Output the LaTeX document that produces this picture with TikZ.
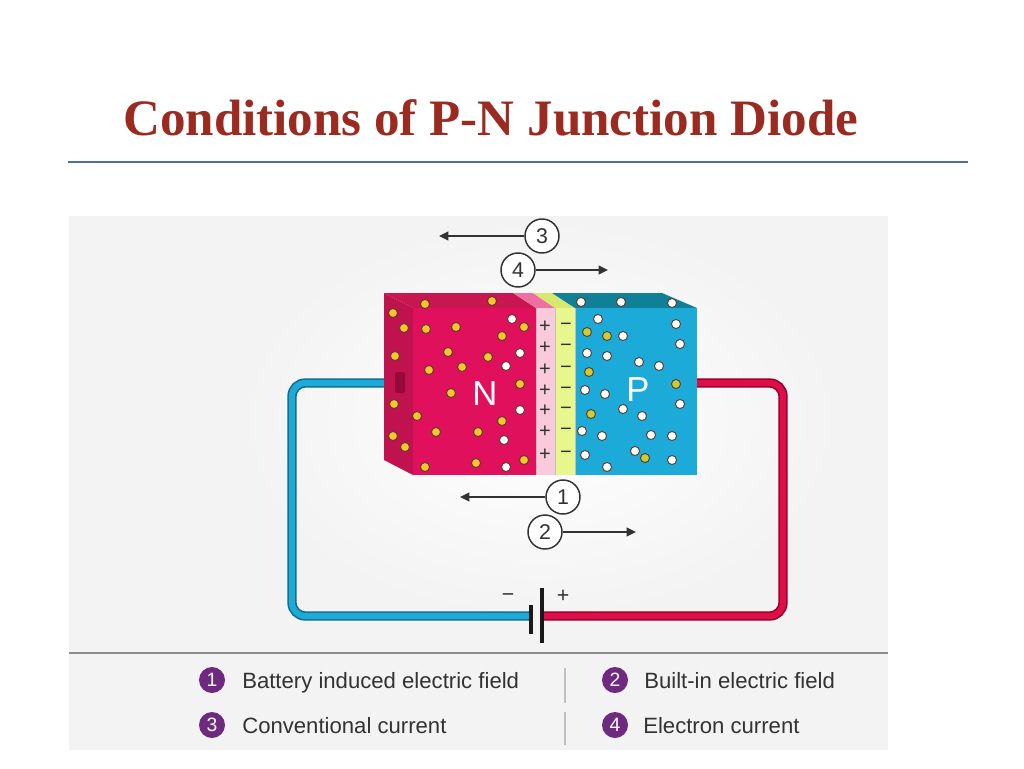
\documentclass[tikz,border=0pt]{standalone}
\usepackage{fontspec}
\setmainfont{Liberation Serif}
\newfontfamily\lsans{Liberation Sans}
\usetikzlibrary{arrows.meta}
\definecolor{titlered}{RGB}{155,42,32}
\definecolor{ruleblue}{RGB}{74,110,165}
\definecolor{panelgray}{RGB}{243,243,243}
\definecolor{nfront}{RGB}{224,16,92}
\definecolor{nside}{RGB}{192,18,78}
\definecolor{ntop}{RGB}{200,22,80}
\definecolor{pinkfront}{RGB}{248,202,220}
\definecolor{pinktop}{RGB}{238,112,162}
\definecolor{yelfront}{RGB}{232,246,142}
\definecolor{yeltop}{RGB}{214,232,112}
\definecolor{pfront}{RGB}{28,170,216}
\definecolor{ptop}{RGB}{16,128,150}
\definecolor{stub}{RGB}{150,10,58}
\definecolor{wireblue}{RGB}{30,170,214}
\definecolor{wireblueD}{RGB}{14,110,140}
\definecolor{wirered}{RGB}{222,14,72}
\definecolor{wireredD}{RGB}{150,0,40}
\definecolor{dotyel}{RGB}{246,196,44}
\definecolor{dotgreen}{RGB}{204,204,52}
\definecolor{dotline}{RGB}{90,60,40}
\definecolor{darkgray}{RGB}{50,50,50}
\definecolor{legpurple}{RGB}{110,42,126}
\tikzset{
  numcirc/.style={circle,draw=darkgray,line width=1.1pt,fill=white,minimum size=25.5pt,inner sep=0pt,font=\lsans\fontsize{16}{16}\selectfont,text=darkgray},
  legcirc/.style={circle,fill=legpurple,minimum size=19.5pt,inner sep=0pt,font=\lsans\fontsize{14.5}{14.5}\selectfont,text=white},
  legtext/.style={anchor=base west,inner sep=0pt,font=\lsans\fontsize{16.6}{18}\selectfont,text=darkgray},
  arr/.style={draw=darkgray,line width=1.5pt,-{Triangle[length=7pt,width=6.5pt]}},
  ydot/.style={fill=dotyel,draw=dotline,line width=0.7pt},
  wdot/.style={fill=white,draw=dotline,line width=0.7pt},
  gdot/.style={fill=dotgreen,draw=dotline,line width=0.7pt},
  sign/.style={inner sep=0pt,font=\lsans\fontsize{15}{15}\selectfont,text=darkgray},
  bigletter/.style={inner sep=0pt,font=\lsans\fontsize{26}{26}\selectfont,text=white},
  legsep/.style={draw=black!25,line width=1.2pt},
  plate/.style={draw=black!90,line width=3pt},
}
\begin{document}
\begin{tikzpicture}[x=0.75pt,y=-0.75pt]
\useasboundingbox (0,0) rectangle (1024,768);
\fill[white] (0,0) rectangle (1024,768);
% title
\node[anchor=base west,inner sep=0pt,font=\bfseries\fontsize{38.3}{40}\selectfont,text=titlered] (title) at (123,135) {Conditions of P-N Junction Diode};
\draw[ruleblue,line width=1.3pt] (68,162) -- (968,162);
% panel
\fill[panelgray] (69,216) rectangle (888,750);
\shade[inner color=white,outer color=panelgray] (540,420) ellipse (300 and 200);
\draw[black!45,line width=0.9pt] (69,653) -- (888,653);

% wires
\coordinate (nstub) at (395,383);
\coordinate (pstub) at (697,383);
\coordinate (bneg) at (531,616);
\coordinate (bpos) at (542,616);
\draw[wireblueD,line width=7pt,rounded corners=10pt] (nstub) -- (292,383) |- (bneg);
\draw[wireblue,line width=4.6pt,rounded corners=10pt] (nstub) -- (292,383) |- (bneg);
\draw[wireredD,line width=7pt,rounded corners=10pt] (pstub) -- (783,383) |- (bpos);
\draw[wirered,line width=4.6pt,rounded corners=10pt] (pstub) -- (783,383) |- (bpos);

% battery
\draw[plate] (531,605) -- (531,634);
\draw[plate] (542,588) -- (542,643);
\node[sign,font=\lsans\fontsize{16}{16}\selectfont] (bminus) at (508,598) {−};
\node[sign,font=\lsans\fontsize{16}{16}\selectfont] (bplus) at (563,596) {+};

% block: left side
\fill[nside] (384,293) -- (413,308) -- (413,475) -- (384,460) -- cycle;
% top faces
\fill[ntop] (384,293) -- (513,293) -- (536,308) -- (413,308) -- cycle;
\fill[pinktop] (513,293) -- (533,293) -- (555,308) -- (536,308) -- cycle;
\fill[yeltop] (533,293) -- (552,293) -- (575,308) -- (555,308) -- cycle;
\fill[ptop] (552,293) -- (662,293) -- (697,308) -- (575,308) -- cycle;
% front faces
\fill[nfront] (413,308) rectangle (536,475);
\fill[pinkfront] (536,308) rectangle (555,475);
\fill[yelfront] (555,308) rectangle (575,475);
\fill[pfront] (575,308) rectangle (697,475);
\draw[black!25,line width=0.4pt] (536,308) -- (536,475) (555,308) -- (555,475) (575,308) -- (575,475);
% wire stub on N side
\fill[stub,rounded corners=1.5pt] (395,372) rectangle (405,393);

% dots
\foreach \p in {(393,313),(404,328),(395,356),(394,404),(417,416),(393,436),(405,447),(425,304),(492,301),(426,329),(456,327),(502,336),(524,327),(448,352),(488,357),(429,370),(462,367),(520,384),(451,393),(502,421),(436,432),(478,432),(425,467),(476,463),(524,460)}
  \filldraw[ydot] \p circle[radius=3.4pt];
\foreach \p in {(512,319),(520,353),(506,366),(520,410),(504,440),(506,467)}
  \filldraw[wdot] \p circle[radius=3.4pt];
\foreach \p in {(581,302),(621,302),(672,303),(598,319),(676,324),(623,336),(680,344),(587,353),(607,356),(639,362),(659,366),(585,390),(605,394),(680,404),(623,409),(642,416),(582,431),(602,436),(651,435),(672,436),(585,455),(635,451),(672,460),(607,467)}
  \filldraw[wdot] \p circle[radius=3.4pt];
\foreach \p in {(587,332),(607,336),(589,372),(676,384),(591,414),(645,458)}
  \filldraw[gdot] \p circle[radius=3.4pt];

% + and - signs
\foreach \yy [count=\i] in {327,348,370,391,411,432,455}{
  \node[sign] (plus\i) at (545,\yy) {+};
  \node[sign] (minus\i) at (566,\yy) {−};
}
\node[bigletter] (Nlab) at (485,394) {N};
\node[bigletter] (Plab) at (638,390) {P};

% numbered arrows
\node[numcirc] (c3) at (542,236) {3};
\coordinate (t3) at (439,236);
\draw[arr] (c3) -- (t3);
\node[numcirc] (c4) at (518,270) {4};
\coordinate (t4) at (608,270);
\draw[arr] (c4) -- (t4);
\node[numcirc] (c1) at (563,497) {1};
\coordinate (t1) at (460,497);
\draw[arr] (c1) -- (t1);
\node[numcirc] (c2) at (545,532) {2};
\coordinate (t2) at (636,532);
\draw[arr] (c2) -- (t2);

% legend
\node[legcirc] (l1) at (212,680) {1};
\node[legtext] (lt1) at (242,688) {Battery induced electric field};
\node[legcirc] (l3) at (212,725) {3};
\node[legtext] (lt3) at (242,733) {Conventional current};
\node[legcirc] (l2) at (615,680) {2};
\node[legtext] (lt2) at (644,688) {Built-in electric field};
\node[legcirc] (l4) at (615,725) {4};
\node[legtext] (lt4) at (643,733) {Electron current};
\draw[legsep] (565,668) -- (565,703);
\draw[legsep] (565,712) -- (565,745);
\end{tikzpicture}
\end{document}
